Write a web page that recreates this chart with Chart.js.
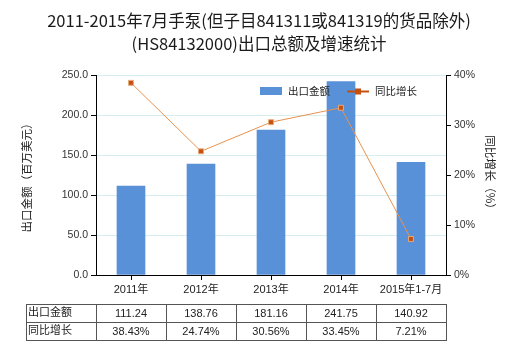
<!DOCTYPE html>
<html>
<head>
<meta charset="utf-8">
<script src="https://cdn.jsdelivr.net/npm/chart.js@4/dist/chart.umd.min.js"></script>
<style>
html,body{margin:0;padding:0;background:#fff;}
#wrap{width:520px;height:350px;position:relative;}
</style>
</head>
<body>
<div id="wrap"><canvas id="c" width="520" height="350"></canvas></div>
<script>
const titleLines = ["2011-2015年7月手泵(但子目841311或841319的货品除外)", "(HS84132000)出口总额及增速统计"];
const categories = ["2011年", "2012年", "2013年", "2014年", "2015年1-7月"];
const exportValues = [111.24, 138.76, 181.16, 241.75, 140.92];
const growthValues = [38.43, 24.74, 30.56, 33.45, 7.21];
const exportLabels = ["111.24", "138.76", "181.16", "241.75", "140.92"];
const growthLabels = ["38.43%", "24.74%", "30.56%", "33.45%", "7.21%"];
const seriesNames = ["出口金额", "同比增长"];
const leftAxisTitle = "出口金额（百万美元）";
const rightAxisTitle = "同比增长（%）";

const FONT = "'Liberation Sans', 'Noto Sans CJK SC', sans-serif";
const BAR_COLOR = '#5891d8';
const LINE_COLOR = '#e8914d';
const POINT_COLOR = '#c4510f';

const extras = {
  id: 'extras',
  afterDraw(chart) {
    const ctx = chart.ctx;
    const x = chart.scales.x;
    const ca = chart.chartArea;
    ctx.save();
    // title
    ctx.fillStyle = '#1a1a1a';
    ctx.font = "16.5px 'Noto Sans CJK SC', 'Liberation Sans', sans-serif";
    ctx.textAlign = 'center';
    ctx.textBaseline = 'middle';
    ctx.fillText(titleLines[0], 259, 21);
    ctx.fillText(titleLines[1], 259, 44);

    // axis titles
    ctx.font = "11.5px 'Noto Sans CJK SC', sans-serif";
    ctx.fillStyle = '#222';
    const cy = (ca.top + ca.bottom) / 2;
    ctx.save();
    ctx.translate(27, cy);
    ctx.rotate(-Math.PI / 2);
    ctx.fillText(leftAxisTitle, 0, 0);
    ctx.restore();
    ctx.save();
    ctx.translate(490, cy);
    ctx.rotate(Math.PI / 2);
    ctx.fillText(rightAxisTitle, 0, 0);
    ctx.restore();

    // legend
    ctx.font = "10.5px 'Noto Sans CJK SC', sans-serif";
    ctx.textAlign = 'left';
    ctx.fillStyle = BAR_COLOR;
    ctx.fillRect(260, 87, 22, 8);
    ctx.fillStyle = '#222';
    ctx.fillText(seriesNames[0], 288, 91.5);
    ctx.strokeStyle = POINT_COLOR;
    ctx.lineWidth = 2;
    ctx.beginPath(); ctx.moveTo(347, 91.5); ctx.lineTo(369, 91.5); ctx.stroke();
    ctx.fillStyle = POINT_COLOR;
    ctx.fillRect(355, 88.5, 6, 6);
    ctx.fillStyle = '#222';
    ctx.fillText(seriesNames[1], 375, 91.5);

    // table
    const n = categories.length;
    const bounds = [26, ca.left];
    for (let i = 0; i < n - 1; i++) bounds.push((x.getPixelForValue(i) + x.getPixelForValue(i + 1)) / 2);
    bounds.push(ca.right);
    const rows = [304, 322, 340];
    ctx.strokeStyle = '#555';
    ctx.lineWidth = 1;
    ctx.beginPath();
    rows.forEach(r => { ctx.moveTo(bounds[0], r + 0.5); ctx.lineTo(bounds[bounds.length - 1], r + 0.5); });
    bounds.forEach(b => { const bx = Math.round(b) + 0.5; ctx.moveTo(bx, rows[0]); ctx.lineTo(bx, rows[2] + 1); });
    ctx.stroke();
    ctx.fillStyle = '#222';
    ctx.font = "11px " + FONT;
    ctx.textAlign = 'left';
    ctx.fillText(seriesNames[0], 28, 313);
    ctx.fillText(seriesNames[1], 28, 331);
    ctx.textAlign = 'center';
    for (let i = 0; i < n; i++) {
      const px = x.getPixelForValue(i);
      ctx.fillText(exportLabels[i], px, 314);
      ctx.fillText(growthLabels[i], px, 332);
    }
    ctx.restore();
  }
};

new Chart(document.getElementById('c'), {
  type: 'bar',
  data: {
    labels: categories,
    datasets: [
      {
        type: 'line',
        label: seriesNames[1],
        data: growthValues,
        yAxisID: 'y1',
        borderColor: LINE_COLOR,
        borderWidth: 1,
        pointStyle: 'rect',
        pointRadius: 3.5,
        pointBackgroundColor: POINT_COLOR,
        pointBorderColor: '#e9a878',
        pointBorderWidth: 1,
        tension: 0,
        order: 1
      },
      {
        type: 'bar',
        label: seriesNames[0],
        data: exportValues,
        yAxisID: 'y',
        backgroundColor: BAR_COLOR,
        barThickness: 28,
        order: 2
      }
    ]
  },
  options: {
    responsive: false,
    animation: false,
    layout: { padding: { top: 75, left: 0, right: 0, bottom: 0 } },
    plugins: { legend: { display: false }, title: { display: false }, tooltip: { enabled: false } },
    scales: {
      x: {
        offset: true,
        grid: { offset: false, drawOnChartArea: false, tickLength: 5, color: '#000' },
        border: { color: '#000' },
        ticks: { color: '#222', font: { size: 11, family: FONT }, padding: 3, maxRotation: 0, autoSkip: false },
        afterFit(s) { s.height = 75; }
      },
      y: {
        position: 'left',
        min: 0, max: 250,
        ticks: { stepSize: 50, color: '#333', font: { size: 10.5, family: FONT }, padding: 3, callback: v => v.toFixed(1) },
        grid: { color: '#d6eeee', tickColor: '#000', tickLength: 5 },
        border: { color: '#000' },
        afterFit(s) { s.width = 96; }
      },
      y1: {
        position: 'right',
        min: 0, max: 40,
        ticks: { stepSize: 10, color: '#333', font: { size: 10.5, family: FONT }, padding: 3, callback: v => v + '%' },
        grid: { drawOnChartArea: false, tickColor: '#000', tickLength: 5 },
        border: { color: '#000' },
        afterFit(s) { s.width = 74; }
      }
    }
  },
  plugins: [extras]
});
</script>
</body>
</html>
